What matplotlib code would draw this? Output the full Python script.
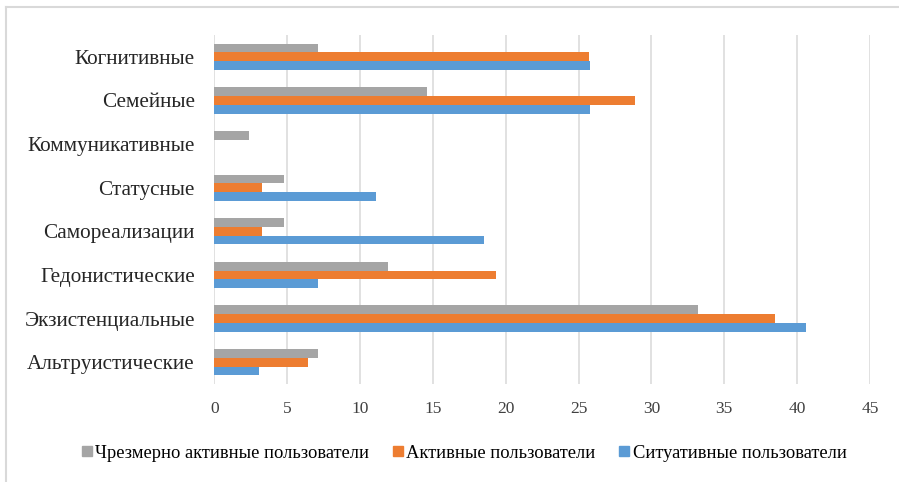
import matplotlib.pyplot as plt
import numpy as np
from matplotlib.lines import Line2D

# Data
categories = ["Когнитивные", "Семейные", "Коммуникативные", "Статусные",
              "Самореализации", "Гедонистические", "Экзистенциальные",
              "Альтруистические"]
over_active = [7.1, 14.6, 2.4, 4.8, 4.8, 11.9, 33.2, 7.1]
active = [25.7, 28.9, 0, 3.3, 3.3, 19.3, 38.5, 6.4]
situational = [25.8, 25.8, 0, 11.1, 18.5, 7.1, 40.6, 3.1]
series_names = ["Чрезмерно активные пользователи", "Активные пользователи",
                "Ситуативные пользователи"]
x_ticks = [0, 5, 10, 15, 20, 25, 30, 35, 40, 45]

plt.rcParams['font.family'] = ['Liberation Serif', 'DejaVu Serif']

c_gray = '#a5a5a5'
c_orange = '#ed7d31'
c_blue = '#5b9bd5'

fig = plt.figure(figsize=(8.99, 4.82), dpi=100)
ax = fig.add_axes([214.3 / 899, 1 - 384 / 482, (870 - 214.3) / 899, (384 - 35) / 482])

y = np.arange(len(categories))
h = 0.2
ax.barh(y - h, over_active, height=h, color=c_gray, linewidth=0, zorder=3)
ax.barh(y, active, height=h, color=c_orange, linewidth=0, zorder=3)
ax.barh(y + h, situational, height=h, color=c_blue, linewidth=0, zorder=3)

ax.set_xlim(0, 45)
ax.set_ylim(len(categories) - 0.5, -0.5)
ax.set_xticks(x_ticks)
ax.set_yticks(y)
ax.set_yticklabels(categories, fontsize=15.3)
ax.tick_params(axis='x', length=0, pad=12, labelsize=12.5, colors='#404040')
ax.tick_params(axis='y', length=0, pad=14, colors='#262626')

ax.grid(axis='x', color='#d9d9d9', linewidth=1.1, zorder=0)
for s in ax.spines.values():
    s.set_visible(False)

# Legend
handles = [Line2D([], [], marker='s', linestyle='none', markersize=7, color=c)
           for c in (c_gray, c_orange, c_blue)]
fig.legend(handles, series_names, loc='center', bbox_to_anchor=(0.5156, 0.06),
           ncol=3, frameon=False, fontsize=13.3, handletextpad=0.1,
           columnspacing=1.2, handlelength=0.7)

# Outer frame (top and left lines)
fig.add_artist(Line2D([6 / 899, 1], [1 - 7 / 482, 1 - 7 / 482], color='#d9d9d9', linewidth=1.5))
fig.add_artist(Line2D([6 / 899, 6 / 899], [0, 1 - 7 / 482], color='#d9d9d9', linewidth=1.5))

fig.savefig('out.png', dpi=100)
plt.close(fig)
